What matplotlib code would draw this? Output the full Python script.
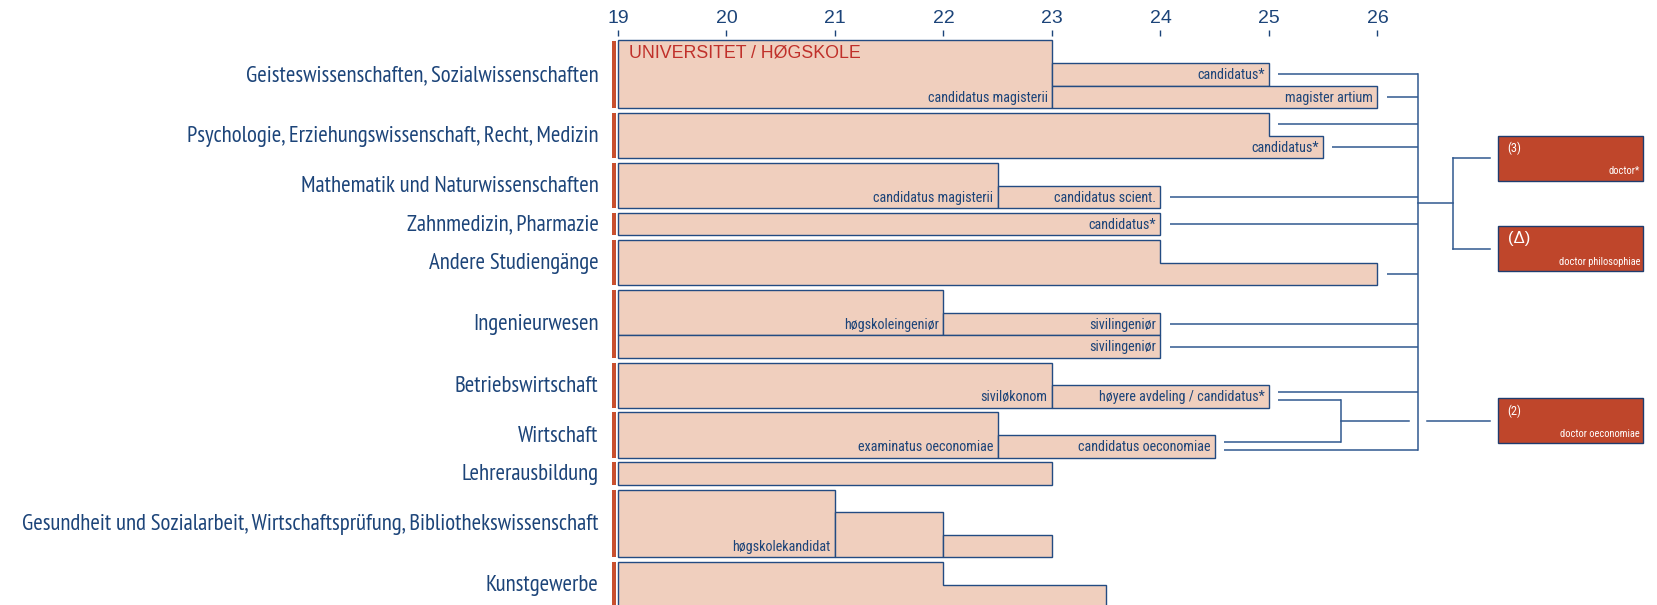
import matplotlib.pyplot as plt
from matplotlib.patches import Polygon, Rectangle

# study fields (rows, top to bottom) and how many bar slots each row uses
fields = [
    "Geisteswissenschaften, Sozialwissenschaften",
    "Psychologie, Erziehungswissenschaft, Recht, Medizin",
    "Mathematik und Naturwissenschaften",
    "Zahnmedizin, Pharmazie",
    "Andere Studiengänge",
    "Ingenieurwesen",
    "Betriebswirtschaft",
    "Wirtschaft",
    "Lehrerausbildung",
    "Gesundheit und Sozialarbeit, Wirtschaftsprüfung, Bibliothekswissenschaft",
    "Kunstgewerbe",
]
row_slots = [3, 2, 2, 1, 2, 3, 2, 2, 1, 3, 2]

# degree blocks: (row, start age, [(end age, top slot), ...], bottom slot, label)
blocks = [
    (0, 19, [(23, 0)], 3, "candidatus magisterii"),
    (0, 23, [(25, 1)], 2, "candidatus*"),
    (0, 23, [(26, 2)], 3, "magister artium"),
    (1, 19, [(25, 0), (25.5, 1)], 2, "candidatus*"),
    (2, 19, [(22.5, 0)], 2, "candidatus magisterii"),
    (2, 22.5, [(24, 1)], 2, "candidatus scient."),
    (3, 19, [(24, 0)], 1, "candidatus*"),
    (4, 19, [(24, 0), (26, 1)], 2, ""),
    (5, 19, [(22, 0)], 2, "høgskoleingeniør"),
    (5, 22, [(24, 1)], 2, "sivilingeniør"),
    (5, 19, [(24, 2)], 3, "sivilingeniør"),
    (6, 19, [(23, 0)], 2, "siviløkonom"),
    (6, 23, [(25, 1)], 2, "høyere avdeling / candidatus*"),
    (7, 19, [(22.5, 0)], 2, "examinatus oeconomiae"),
    (7, 22.5, [(24.5, 1)], 2, "candidatus oeconomiae"),
    (8, 19, [(23, 0)], 1, ""),
    (9, 19, [(21, 0)], 3, "høgskolekandidat"),
    (9, 21, [(22, 1)], 3, ""),
    (9, 22, [(23, 2)], 3, ""),
    (10, 19, [(22, 0), (23.5, 1)], 2, ""),
]

# links from a degree to the doctorate: (row, slot, end age, target)
links = [
    (0, 1, 25, "bus"), (0, 2, 26, "bus"),
    (1, 0, 25, "bus"), (1, 1, 25.5, "bus"),
    (2, 1, 24, "bus"),
    (3, 0, 24, "bus"),
    (4, 1, 26, "bus"),
    (5, 1, 24, "bus"), (5, 2, 24, "bus"),
    (6, 1, 25, "bus"), (6, 1, 25, "sub"),
    (7, 1, 24.5, "sub"), (7, 1, 24.5, "bus"),
]

doctor_marks = ["(3)", "(Δ)", "(2)"]
doctor_names = ["doctor*", "doctor philosophiae", "doctor oeconomiae"]
ages = list(range(19, 27))

NAVY = "#1c4479"
EDGE = "#234b82"
LINE = "#30598f"
PEACH = "#f0cfbe"
RUST = "#bf462b"
LABELFONT = ["PT Sans Narrow", "DejaVu Sans"]
NARROW = ["Roboto Condensed", "DejaVu Sans"]
SANS = ["Liberation Sans", "DejaVu Sans"]

fig = plt.figure(figsize=(16.58, 6.05), dpi=100)
ax = fig.add_axes([0, 0, 1, (605 - 36) / 605])
ax.set_xlim(19 - 618 / 108.5, 19 + (1658 - 618) / 108.5)
ax.set_ylim(605, 36)
for s in ax.spines.values():
    s.set_visible(False)
ax.xaxis.tick_top()
ax.set_xticks(ages)
ax.set_xticklabels([str(a) for a in ages], family=SANS, fontsize=14, color=NAVY)
ax.tick_params(axis="x", direction="out", length=4.3, width=1, color=NAVY, pad=2.5)
ax.set_yticks([])

# vertical layout in pixels
unit, gap, y0 = 22.6, 4.7, 40.5
row_top = []
y = y0
for n in row_slots:
    row_top.append(y)
    y += n * unit + gap


def slot_y(row, k):
    return row_top[row] + k * unit


# row labels and red markers
for i, name in enumerate(fields):
    top = row_top[i]
    bot = top + row_slots[i] * unit
    ax.add_patch(Rectangle((18.944, top), 0.04, bot - top, facecolor="#c8502f", lw=0))
    ax.text(18.82, min((top + bot) / 2, 587) + 1, name, ha="right", va="center",
            family=LABELFONT, fontsize=16.4, color=NAVY)

# degree blocks
for row, start, steps, bottom, label in blocks:
    yb = slot_y(row, bottom)
    pts = [(start, yb)]
    x = start
    for end, t in steps:
        pts.append((x, slot_y(row, t)))
        pts.append((end, slot_y(row, t)))
        x = end
    pts.append((x, yb))
    ax.add_patch(Polygon(pts, closed=True, facecolor=PEACH, edgecolor=EDGE, lw=1.0))
    if label:
        ax.text(x - 0.04, yb - unit / 2 + 1, label, ha="right", va="center",
                family=NARROW, fontsize=10.2, color=NAVY)

ax.text(19.1, 52.5, "UNIVERSITET / HØGSKOLE", ha="left", va="center",
        family=SANS, fontsize=12.8, color="#c0302a")

# connector lines
bus_x, sub_x = 26.37, 25.66
seen = {}
bus_ys, sub_ys = [], []
for row, slot, end, target in links:
    key = (row, slot)
    seen[key] = seen.get(key, 0) + 1
    ly = slot_y(row, slot) + unit / 2
    if sum(1 for l in links if (l[0], l[1]) == key) > 1:
        ly += -4 if seen[key] == 1 else 4
    tx = bus_x if target == "bus" else sub_x
    ax.plot([end + 0.085, tx], [ly, ly], color=LINE, lw=1.1, solid_capstyle="butt")
    (bus_ys if target == "bus" else sub_ys).append(ly)
ax.plot([bus_x, bus_x], [min(bus_ys), max(bus_ys)], color=LINE, lw=1.1)
ax.plot([sub_x, sub_x], [min(sub_ys), max(sub_ys)], color=LINE, lw=1.1)

# doctorate boxes
box_x0, box_x1 = 27.11, 28.445
box_tops = [135.6, 226.0, 398.3]
box_h = 45.2
for mark, name, top in zip(doctor_marks, doctor_names, box_tops):
    ax.add_patch(Rectangle((box_x0, top), box_x1 - box_x0, box_h,
                           facecolor=RUST, edgecolor="#1f3c6e", lw=1.0))
    big = mark == "(Δ)"
    ax.text(box_x0 + 0.09, top + 13, mark, ha="left", va="center",
            family=SANS if big else NARROW, fontsize=12 if big else 9, color="white")
    ax.text(box_x1 - 0.025, top + box_h - 9.5, name, ha="right", va="center",
            family=NARROW, fontsize=7.5, color="white")

# bracket from bus to doctor* / doctor philosophiae
c1 = box_tops[0] + box_h / 2
c2 = box_tops[1] + box_h / 2
br_x, end_x = 26.70, 27.037
ax.plot([bus_x, br_x], [(c1 + c2) / 2] * 2, color=LINE, lw=1.1)
ax.plot([br_x, br_x], [c1, c2], color=LINE, lw=1.1)
ax.plot([br_x, end_x], [c1, c1], color=LINE, lw=1.1)
ax.plot([br_x, end_x], [c2, c2], color=LINE, lw=1.1)

# sub bracket to doctor oeconomiae, bridging over the bus
cy = (min(sub_ys) + max(sub_ys)) / 2
ax.plot([sub_x, 26.286], [cy, cy], color=LINE, lw=1.1)
ax.plot([26.453, end_x], [cy, cy], color=LINE, lw=1.1)

fig.savefig("out.png", dpi=100)
